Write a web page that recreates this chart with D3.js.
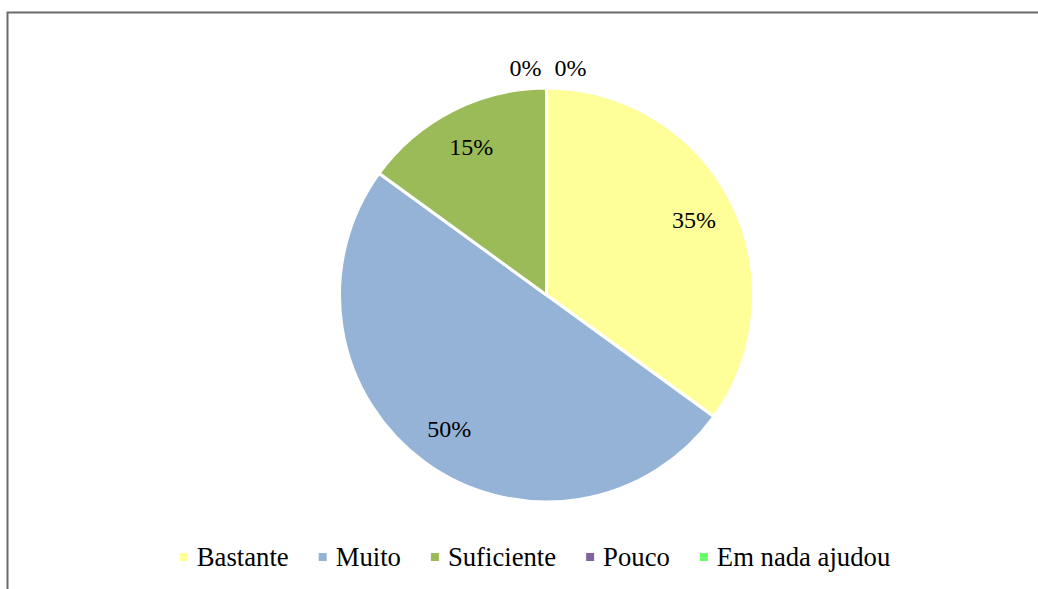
<!DOCTYPE html>
<html>
<head>
<meta charset="utf-8">
<script src="https://cdn.jsdelivr.net/npm/d3@7"></script>
<style>
  html, body { margin: 0; padding: 0; background: #fff; }
  svg { display: block; }
  text { font-family: "Liberation Serif", "Times New Roman", Times, "DejaVu Serif", serif; }
</style>
</head>
<body>
<svg id="chart" width="1038" height="589"></svg>
<script>
const categories = ["Bastante", "Muito", "Suficiente", "Pouco", "Em nada ajudou"];
const values = [35, 50, 15, 0, 0];
const colors = ["#FFFF99", "#95B3D7", "#9BBB59", "#8064A2", "#66FF66"];

const W = 1038, H = 589;
const svg = d3.select("#chart");

// outer frame (only top and left edges visible in the reference)
svg.append("rect")
  .attr("x", 7.5).attr("y", 12.5)
  .attr("width", W + 20).attr("height", H + 20)
  .attr("fill", "#fff").attr("stroke", "#6b6b6b").attr("stroke-width", 2);

const cx = 546.5, cy = 295, r = 207;
const g = svg.append("g").attr("transform", `translate(${cx},${cy})`);

const pie = d3.pie().sort(null).value(d => d.v);
const data = categories.map((c, i) => ({ c, v: values[i], color: colors[i] }));
const arcs = pie(data);
const arc = d3.arc().innerRadius(0).outerRadius(r);
const labelArc = d3.arc().innerRadius(r * 0.8).outerRadius(r * 0.8);

g.selectAll("path.slice").data(arcs).enter().append("path")
  .attr("class", "slice")
  .attr("d", arc)
  .attr("fill", d => d.data.color)
  .attr("stroke", "#fff")
  .attr("stroke-width", d => d.data.v > 0 ? 3 : 0);

const total = d3.sum(values);
let zeroIdx = 0;
g.selectAll("text.lbl").data(arcs).enter().append("text")
  .attr("class", "lbl")
  .attr("font-size", 24)
  .attr("fill", "#000")
  .attr("text-anchor", "middle")
  .attr("dominant-baseline", "central")
  .attr("transform", d => {
    if (d.data.v > 0) {
      const [x, y] = labelArc.centroid(d);
      return `translate(${x},${y})`;
    }
    const off = zeroIdx++ === 0 ? -21 : 24;
    return `translate(${off},${-r - 20})`;
  })
  .text(d => Math.round(d.data.v / total * 100) + "%");

// legend
const legend = svg.append("g");
const items = legend.selectAll("g.item").data(data).enter().append("g").attr("class", "item");
items.append("rect").attr("width", 8).attr("height", 8).attr("y", -13).attr("fill", d => d.color);
items.append("text")
  .attr("x", 17)
  .attr("font-size", 26.7)
  .attr("fill", "#000")
  .text(d => d.c);
let x = 0;
const gap = 30;
items.each(function() {
  const w = this.getBBox().width;
  d3.select(this).attr("transform", `translate(${x},0)`);
  x += w + gap;
});
const totalW = x - gap;
legend.attr("transform", `translate(${(179 + 891) / 2 - totalW / 2},566)`);
</script>
</body>
</html>
